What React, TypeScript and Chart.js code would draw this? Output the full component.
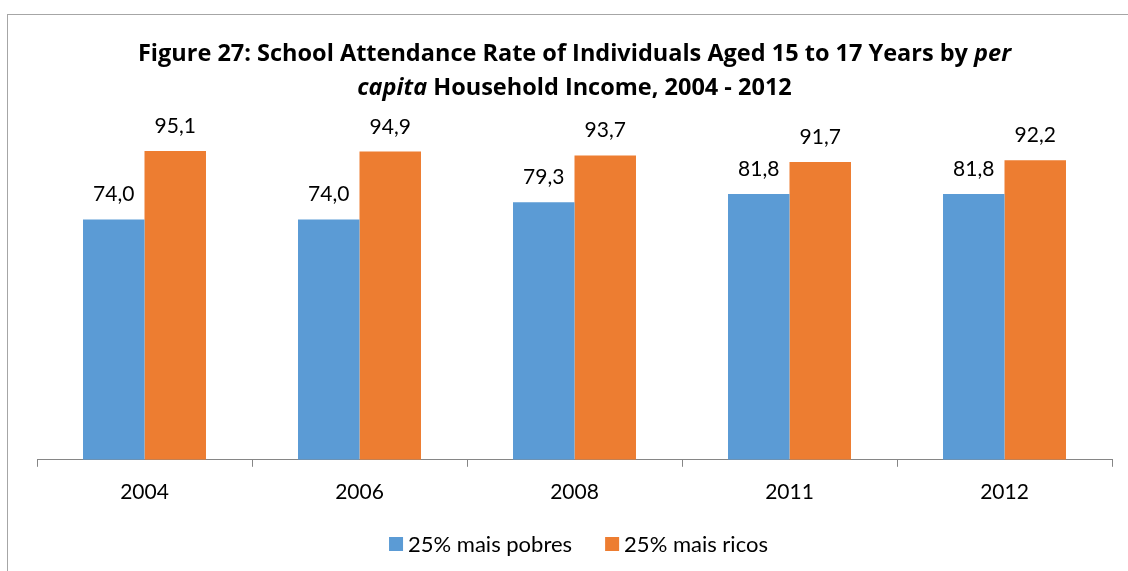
import React, { useEffect, useRef } from "react";
import { Chart, registerables } from "chart.js";

Chart.register(...registerables);

const categories = ["2004", "2006", "2008", "2011", "2012"];
const poorest = [74.0, 74.0, 79.3, 81.8, 81.8];
const richest = [95.1, 94.9, 93.7, 91.7, 92.2];
const seriesNames = ["25% mais pobres", "25% mais ricos"];
const seriesColors = ["#5B9BD5", "#ED7D31"];
const titleLine1 = [
  { text: "Figure 27: School Attendance Rate of Individuals Aged 15 to 17 Years by ", italic: false },
  { text: "per", italic: true },
];
const titleLine2 = [
  { text: "capita", italic: true },
  { text: " Household Income, 2004 - 2012", italic: false },
];

const FONT = "Lato, 'Open Sans', sans-serif";
const TITLE_FONT = "'Open Sans', sans-serif";

const titlePlugin = {
  id: "mixedTitle",
  afterDraw(chart: any) {
    const ctx = chart.ctx;
    const cx = (chart.chartArea.left + chart.chartArea.right) / 2;
    const lines = [
      { parts: titleLine1, y: 61 },
      { parts: titleLine2, y: 95 },
    ];
    ctx.save();
    ctx.fillStyle = "#000";
    ctx.textBaseline = "alphabetic";
    ctx.textAlign = "left";
    for (const line of lines) {
      let total = 0;
      const widths = line.parts.map((p) => {
        ctx.font = `${p.italic ? "italic " : ""}bold 23.5px ${TITLE_FONT}`;
        const w = ctx.measureText(p.text).width;
        total += w;
        return w;
      });
      let x = cx - total / 2;
      line.parts.forEach((p, i) => {
        ctx.font = `${p.italic ? "italic " : ""}bold 23.5px ${TITLE_FONT}`;
        ctx.fillText(p.text, x, line.y);
        x += widths[i];
      });
    }
    ctx.restore();
  },
};

const legendPlugin = {
  id: "customLegend",
  afterDraw(chart: any) {
    const ctx = chart.ctx;
    const cx = (chart.chartArea.left + chart.chartArea.right) / 2 + 4;
    const yc = 544;
    const box = 14;
    const gapText = 5;
    const gapItem = 33;
    ctx.save();
    ctx.font = `22px ${FONT}`;
    const items = chart.data.datasets.map((ds: any) => ({
      label: ds.label,
      color: ds.backgroundColor,
      w: ctx.measureText(ds.label).width,
    }));
    let total = 0;
    items.forEach((it: any, i: number) => {
      total += box + gapText + it.w + (i > 0 ? gapItem : 0);
    });
    let x = cx - total / 2;
    ctx.textBaseline = "middle";
    ctx.textAlign = "left";
    items.forEach((it: any) => {
      ctx.fillStyle = it.color;
      ctx.fillRect(x, yc - box / 2, box, box);
      ctx.fillStyle = "#000";
      ctx.fillText(it.label, x + box + gapText, yc + 1);
      x += box + gapText + it.w + gapItem;
    });
    ctx.restore();
  },
};

const labelPlugin = {
  id: "barLabels",
  afterDatasetsDraw(chart: any) {
    const ctx = chart.ctx;
    ctx.save();
    ctx.font = `21px ${FONT}`;
    ctx.fillStyle = "#000";
    ctx.textAlign = "center";
    ctx.textBaseline = "alphabetic";
    chart.data.datasets.forEach((ds: any, di: number) => {
      const meta = chart.getDatasetMeta(di);
      meta.data.forEach((el: any, i: number) => {
        const v = ds.data[i] as number;
        ctx.fillText(v.toFixed(1).replace(".", ","), el.x, el.y - 18);
      });
    });
    ctx.restore();
  },
};

export default function App() {
  const ref = useRef<HTMLCanvasElement | null>(null);
  useEffect(() => {
    if (!ref.current) return;
    const chart = new Chart(ref.current, {
      type: "bar",
      data: {
        labels: categories,
        datasets: [
          { label: seriesNames[0], data: poorest, backgroundColor: seriesColors[0], borderWidth: 0 },
          { label: seriesNames[1], data: richest, backgroundColor: seriesColors[1], borderWidth: 0 },
        ],
      },
      options: {
        animation: false,
        responsive: true,
        maintainAspectRatio: false,
        layout: { padding: { top: 135, left: 37, right: 16, bottom: 53 } },
        datasets: { bar: { categoryPercentage: 0.572, barPercentage: 1 } },
        scales: {
          x: {
            grid: {
              offset: true,
              drawOnChartArea: false,
              drawTicks: true,
              tickLength: 7,
              color: "#868686",
            },
            border: { display: true, color: "#868686", width: 1 },
            ticks: { color: "#000", font: { family: FONT, size: 21 }, padding: 13 },
          },
          y: { display: false, min: 0, max: 100 },
        },
        plugins: {
          legend: { display: false },
          title: { display: false },
          tooltip: { enabled: false },
        },
      },
      plugins: [titlePlugin, labelPlugin, legendPlugin],
    });
    return () => chart.destroy();
  }, []);

  return (
    <div style={{ position: "fixed", inset: 0, overflow: "hidden", background: "#fff" }}>
      <div
        style={{
          position: "absolute",
          left: 7,
          top: 14,
          width: 1400,
          height: 800,
          border: "1px solid #a6a6a6",
        }}
      />
      <div style={{ position: "absolute", left: 0, top: 0, width: 1128, height: 571 }}>
        <canvas ref={ref} />
      </div>
    </div>
  );
}
